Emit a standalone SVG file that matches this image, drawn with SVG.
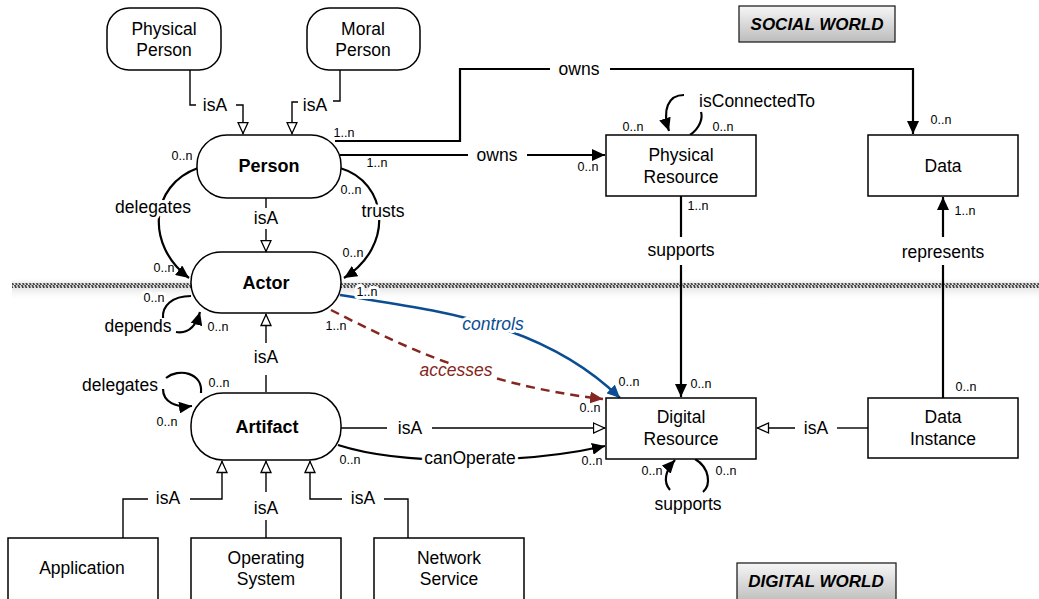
<svg xmlns="http://www.w3.org/2000/svg" width="1039" height="599" viewBox="0 0 1039 599">
<style>
text{font-family:"Liberation Sans",Arial,sans-serif;fill:#000;text-anchor:middle}
.nl{font-size:17.5px}
.nb{font-size:18px;font-weight:bold}
.el{font-size:17.5px}
.m{font-size:12.5px}
.h{stroke:#fff;stroke-width:6;paint-order:stroke;stroke-linejoin:round}
.box{fill:#fff;stroke:#000;stroke-width:1.5}
.ln{fill:none;stroke:#000;stroke-width:2.2}
.isa{fill:none;stroke:#000;stroke-width:1.4}
.wl{font-size:17px;font-weight:bold;font-style:italic}
</style>
<defs>
<marker id="af" markerUnits="userSpaceOnUse" markerWidth="14" markerHeight="12" refX="13" refY="6" orient="auto"><path d="M0,0 L13,6 L0,12 z" fill="#000"/></marker>
<marker id="ab" markerUnits="userSpaceOnUse" markerWidth="14" markerHeight="12" refX="13" refY="6" orient="auto"><path d="M0,0 L13,6 L0,12 z" fill="#0b4d92"/></marker>
<marker id="ar" markerUnits="userSpaceOnUse" markerWidth="14" markerHeight="12" refX="13" refY="6" orient="auto"><path d="M0,0 L13,6 L0,12 z" fill="#862620"/></marker>
<marker id="ah" markerUnits="userSpaceOnUse" markerWidth="14" markerHeight="12" refX="12.5" refY="6" orient="auto"><path d="M1,1 L12,6 L1,11 z" fill="#fff" stroke="#000" stroke-width="1.3"/></marker>
<pattern id="hatch" patternUnits="userSpaceOnUse" width="3.5" height="5"><rect width="3.5" height="5" fill="#e8e8e8"/><path d="M0,0 L1.7,0 L3.5,5 L1.8,5 z" fill="#2e2e2e"/></pattern>
<linearGradient id="shadow" x1="0" y1="0" x2="0" y2="1"><stop offset="0" stop-color="#e6e6e6" stop-opacity="0"/><stop offset="0.3" stop-color="#dcdcdc"/><stop offset="1" stop-color="#ffffff" stop-opacity="0"/></linearGradient>
<linearGradient id="wg" x1="0" y1="0" x2="0" y2="1"><stop offset="0" stop-color="#f6f6f6"/><stop offset="1" stop-color="#bcbcbc"/></linearGradient>
</defs>

<g id="divider">
<rect x="12" y="279" width="1027" height="22" fill="url(#shadow)"/>
<rect x="12" y="283" width="1027" height="5" fill="url(#hatch)"/>
</g>

<g id="connectors">
<!-- isA Physical Person -> Person -->
<path class="isa" d="M190,70 V105 H196"/>
<path class="isa" d="M236,105 H243 V134" marker-end="url(#ah)"/>
<text class="el" x="215" y="111">isA</text>
<!-- isA Moral Person -> Person -->
<path class="isa" d="M340,70 V101 H333"/>
<path class="isa" d="M298,102 H292 V134" marker-end="url(#ah)"/>
<text class="el" x="315" y="111">isA</text>

<!-- owns Person -> Data -->
<path class="ln" d="M335,141 H460 V69 H550"/>
<path class="ln" d="M610,69 H913 V134" marker-end="url(#af)"/>
<text class="el" x="579" y="75">owns</text>
<text class="m" x="344" y="137">1..n</text>
<text class="m" x="941" y="124">0..n</text>
<!-- owns Person -> Physical Resource -->
<path class="ln" d="M340,155 H468"/>
<path class="ln" d="M527,155 H605" marker-end="url(#af)"/>
<text class="el" x="497" y="161">owns</text>
<text class="m" x="377" y="167">1..n</text>
<text class="m" x="588" y="171">0..n</text>

<!-- delegates Person -> Actor -->
<path class="ln" d="M198,168 C150,185 145,245 189,278" marker-end="url(#af)"/>
<text class="el h" x="153" y="213">delegates</text>
<text class="m" x="182" y="160">0..n</text>
<text class="m" x="164" y="272">0..n</text>
<!-- trusts Person -> Actor -->
<path class="ln" d="M340,168 C388,182 395,246 344,278" marker-end="url(#af)"/>
<text class="el h" x="383" y="217">trusts</text>
<text class="m" x="351" y="194">0..n</text>
<text class="m" x="353" y="257">0..n</text>
<!-- isA Person -> Actor -->
<path class="isa" d="M266,198 V208"/>
<path class="isa" d="M266,229 V252" marker-end="url(#ah)"/>
<text class="el" x="266" y="224">isA</text>

<!-- depends Actor self -->
<path class="ln" d="M191,296 C172,296 162,306 163,318"/>
<path class="ln" d="M176,332 C188,334 196,326 200,312" marker-end="url(#af)"/>
<text class="el" x="138" y="332">depends</text>
<text class="m h" x="154" y="302">0..n</text>
<text class="m" x="218" y="331">0..n</text>

<!-- isA Artifact -> Actor -->
<path class="isa" d="M266,392 V375"/>
<path class="isa" d="M266,343 V314" marker-end="url(#ah)"/>
<text class="el" x="266" y="363">isA</text>

<!-- controls Actor -> Digital Resource -->
<path d="M340,295 C430,310 540,320 620,398" fill="none" stroke="#0b4d92" stroke-width="2.5" marker-end="url(#ab)"/>
<text class="el h" x="493" y="330" style="fill:#0b4d92;font-style:italic">controls</text>
<text class="m h" x="367" y="296">1..n</text>
<text class="m" x="629" y="386">0..n</text>
<!-- accesses Actor -> Digital Resource -->
<path d="M331,310 C400,345 480,385 603,399" fill="none" stroke="#862620" stroke-width="2.5" stroke-dasharray="9,6" marker-end="url(#ar)"/>
<text class="el h" x="456" y="376" style="fill:#862620;font-style:italic">accesses</text>
<text class="m" x="336" y="330">1..n</text>
<text class="m" x="590" y="412">0..n</text>

<!-- delegates Artifact self -->
<path class="ln" d="M201,393 C203,372 178,368 166,378"/>
<path class="ln" d="M163,389 C163,402 176,408 192,406" marker-end="url(#af)"/>
<text class="el" x="120" y="391">delegates</text>
<text class="m" x="219" y="387">0..n</text>
<text class="m" x="167" y="426">0..n</text>

<!-- isA Artifact -> Digital Resource -->
<path class="isa" d="M341,428 H387"/>
<path class="isa" d="M432,428 H605" marker-end="url(#ah)"/>
<text class="el" x="410" y="434">isA</text>
<!-- canOperate Artifact -> Digital Resource -->
<path class="ln" d="M338,445 C400,465 520,465 605,446" marker-end="url(#af)"/>
<text class="el h" x="470" y="464">canOperate</text>
<text class="m" x="350" y="464">0..n</text>
<text class="m" x="592" y="465">0..n</text>

<!-- isConnectedTo Physical Resource self -->
<path class="ln" d="M690,135 C700,128 703,118 701,112"/>
<path class="ln" d="M684,95 C668,95 662,110 669,131" marker-end="url(#af)"/>
<text class="el" x="757" y="107">isConnectedTo</text>
<text class="m" x="633" y="131">0..n</text>
<text class="m" x="723" y="131">0..n</text>

<!-- supports Physical Resource -> Digital Resource -->
<path class="ln" d="M681,196 V237"/>
<path class="ln" d="M681,265 V397" marker-end="url(#af)"/>
<text class="el" x="681" y="256">supports</text>
<text class="m" x="698" y="210">1..n</text>
<text class="m" x="701" y="388">0..n</text>

<!-- represents Data Instance -> Data -->
<path class="ln" d="M943,398 V265"/>
<path class="ln" d="M943,237 V197" marker-end="url(#af)"/>
<text class="el" x="943" y="258">represents</text>
<text class="m" x="965" y="215">1..n</text>
<text class="m" x="966" y="391">0..n</text>

<!-- isA Data Instance -> Digital Resource -->
<path class="isa" d="M868,428 H837"/>
<path class="isa" d="M795,428 H757" marker-end="url(#ah)"/>
<text class="el" x="816" y="434">isA</text>

<!-- supports Digital Resource self -->
<path class="ln" d="M695,459 C710,468 711,485 703,492"/>
<path class="ln" d="M670,490 C663,482 665,471 675,460" marker-end="url(#af)"/>
<text class="el" x="688" y="510">supports</text>
<text class="m" x="652" y="475">0..n</text>
<text class="m" x="726" y="475">0..n</text>

<!-- isA Application / OS / Network -> Artifact -->
<path class="isa" d="M123,538 V499 H148"/>
<path class="isa" d="M190,499 H222 V461" marker-end="url(#ah)"/>
<text class="el" x="168" y="504">isA</text>
<path class="isa" d="M266,538 V520"/>
<path class="isa" d="M266,492 V461" marker-end="url(#ah)"/>
<text class="el" x="266" y="514">isA</text>
<path class="isa" d="M408,538 V499 H384"/>
<path class="isa" d="M342,499 H310 V461" marker-end="url(#ah)"/>
<text class="el" x="363" y="504">isA</text>
</g>

<g id="physical-person"><rect class="box" x="107" y="8" width="114" height="62" rx="22"/><text class="nl" x="164" y="35">Physical</text><text class="nl" x="164" y="56">Person</text></g>
<g id="moral-person"><rect class="box" x="307" y="8" width="113" height="62" rx="22"/><text class="nl" x="363" y="35">Moral</text><text class="nl" x="363" y="56">Person</text></g>
<g id="person"><rect class="box" x="197" y="135" width="144" height="63" rx="30"/><text class="nb" x="269" y="172">Person</text></g>
<g id="actor"><rect class="box" x="191" y="252" width="150" height="61" rx="30"/><text class="nb" x="266" y="289">Actor</text></g>
<g id="artifact"><rect class="box" x="191" y="393" width="150" height="67" rx="32"/><text class="nb" x="267" y="433">Artifact</text></g>
<g id="physical-resource"><rect class="box" x="606" y="135" width="150" height="61"/><text class="nl" x="681" y="161">Physical</text><text class="nl" x="681" y="183">Resource</text></g>
<g id="data"><rect class="box" x="868" y="135" width="150" height="61"/><text class="nl" x="943" y="172">Data</text></g>
<g id="digital-resource"><rect class="box" x="606" y="398" width="150" height="61"/><text class="nl" x="681" y="423">Digital</text><text class="nl" x="681" y="445">Resource</text></g>
<g id="data-instance"><rect class="box" x="868" y="398" width="150" height="60"/><text class="nl" x="943" y="423">Data</text><text class="nl" x="943" y="445">Instance</text></g>
<g id="application"><rect class="box" x="8" y="538" width="150" height="70"/><text class="nl" x="82" y="574">Application</text></g>
<g id="operating-system"><rect class="box" x="191" y="538" width="150" height="70"/><text class="nl" x="266" y="564">Operating</text><text class="nl" x="266" y="585">System</text></g>
<g id="network-service"><rect class="box" x="374" y="538" width="150" height="70"/><text class="nl" x="449" y="564">Network</text><text class="nl" x="449" y="585">Service</text></g>

<g id="social-world"><rect x="739" y="6" width="156" height="36" fill="url(#wg)" stroke="#222" stroke-width="1.3"/><text class="wl" x="817" y="30">SOCIAL WORLD</text></g>
<g id="digital-world"><rect x="737" y="563" width="159" height="40" fill="url(#wg)" stroke="#222" stroke-width="1.3"/><text class="wl" x="816" y="587">DIGITAL WORLD</text></g>
</svg>
